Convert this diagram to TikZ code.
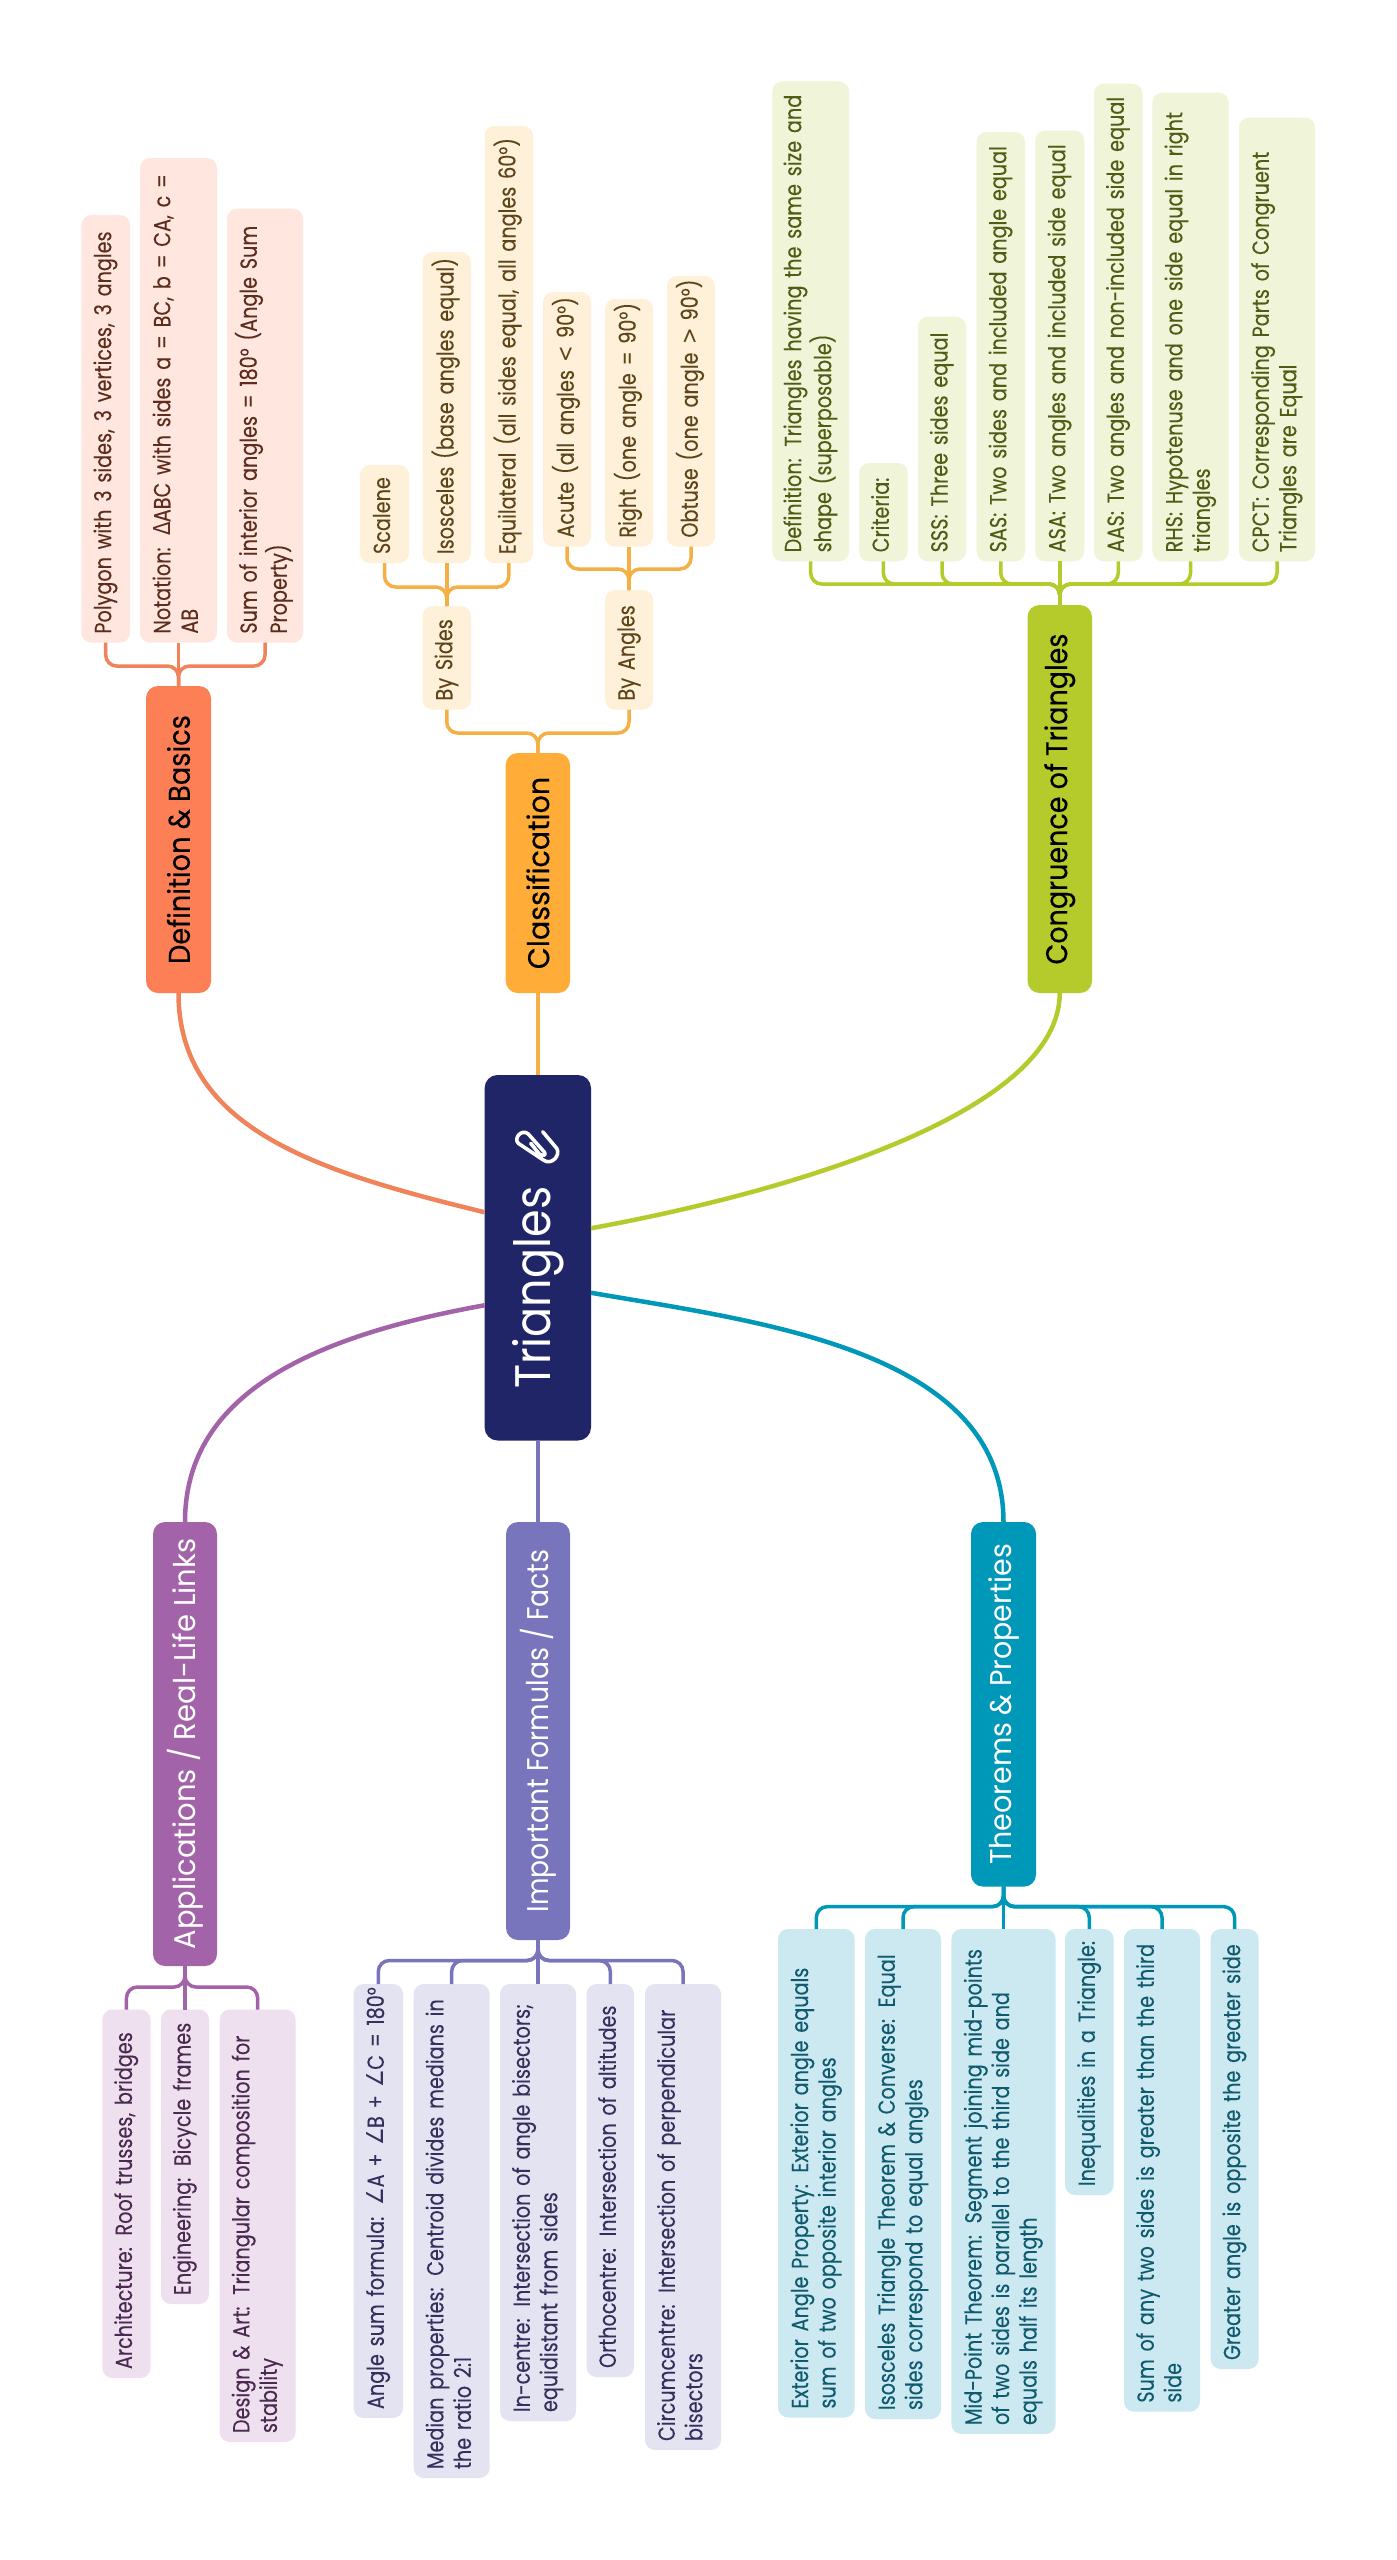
\documentclass[tikz,border=0pt]{standalone}
\usepackage{fontspec}
\setmainfont{Poppins}[FakeStretch=0.825,FakeBold=0.1]
\newfontfamily\titlef{Poppins}[FakeStretch=0.89]
\newfontfamily\titleb{Poppins}[FakeStretch=0.89,FakeBold=0.35]
\newfontfamily\symf{DejaVu Sans}[FakeStretch=0.85]
\usetikzlibrary{positioning}
\definecolor{cen}{HTML}{1F2566}
\definecolor{defc}{HTML}{FC7F55}\definecolor{defl}{HTML}{FFE6DF}\definecolor{deft}{HTML}{5C2C1C}\definecolor{defw}{HTML}{F0835A}
\definecolor{cla}{HTML}{FFAD38}\definecolor{clal}{HTML}{FFF0DA}\definecolor{clat}{HTML}{5E4518}\definecolor{claw}{HTML}{F5AF42}
\definecolor{con}{HTML}{B5CB2B}\definecolor{conl}{HTML}{F0F4D8}\definecolor{cont}{HTML}{4F5C14}
\definecolor{app}{HTML}{A263A8}\definecolor{appl}{HTML}{EEE0EF}\definecolor{appt}{HTML}{4A2A50}
\definecolor{frm}{HTML}{7975BC}\definecolor{frml}{HTML}{E4E3F1}\definecolor{frmt}{HTML}{33305E}
\definecolor{the}{HTML}{0098B8}\definecolor{thel}{HTML}{CCE9F1}\definecolor{thet}{HTML}{0F5A6E}
\tikzset{
  boxbase/.style={rotate=90,shape=rectangle,inner ysep=0pt,outer sep=0pt},
  leafbox/.style={boxbase,rounded corners=10pt,inner xsep=9pt,align=left,font=\fontsize{23.3}{27.5}\selectfont},
  branchbox/.style={boxbase,rounded corners=12pt,inner xsep=0pt,align=center},
  darktitle/.style={font=\titleb\fontsize{30}{36}\selectfont,text=black},
  lighttitle/.style={font=\titlef\fontsize{30}{36}\selectfont,text=white},
  ldef/.style={fill=defl,text=deft},lcla/.style={fill=clal,text=clat},lcon/.style={fill=conl,text=cont},
  lapp/.style={fill=appl,text=appt},lfrm/.style={fill=frml,text=frmt},lthe/.style={fill=thel,text=thet},
  stem/.style={line width=3.5pt,rounded corners=11pt},
  main/.style={line width=4.5pt},
}
\newcommand\lbox[7]{\node[leafbox,#6,minimum width={(#5-#3)*1pt},minimum height={(#4-#2)*1pt},text width={(#5-#3-18)*1pt}] (#1) at ({(#2+#4)/2},{(#3+#5)/2}) {\begin{tabular}{@{}l@{}}#7\end{tabular}};}
\newcommand\bbox[8]{\node[branchbox,#8,fill=#6,minimum width={(#5-#3)*1pt},minimum height={(#4-#2)*1pt}] (#1) at ({(#2+#4)/2},{(#3+#5)/2}) {#7};}
\begin{document}
\begin{tikzpicture}[x=1pt,y=-1pt]
\fill[white] (0,0) rectangle (1397,2560);
\useasboundingbox (0,0) rectangle (1397,2560);
% central
\node[boxbase,fill=cen,rounded corners=13pt,text=white,minimum width=365.5pt,minimum height=106.4pt,font=\titlef\fontsize{50}{60}\selectfont] (central) at (537.8,1257.75) {\makebox[262pt][l]{Triangles}};
\draw[white,line width=3.6pt,line cap=round,line join=round] (542.7,1131.7) -- (556.7,1148.3) .. controls (561,1155) and (551.7,1166) .. (543.3,1160) -- (518.3,1143.3) .. controls (513.3,1138.3) and (521.7,1128.3) .. (528.3,1134) -- (544,1151.7) .. controls (547.3,1155) and (542.7,1156.7) .. (539.3,1154) -- (530.7,1143.3);
% branches
\bbox{def}{146}{686}{211}{993}{defc}{\scalebox{1.02}[1]{Definition \& Basics}}{darktitle}
\bbox{cls}{505.7}{753}{570}{993}{cla}{\scalebox{1.07}[1]{Classification}}{darktitle}
\bbox{cng}{1027.5}{605}{1092}{993}{con}{\scalebox{1.01}[1]{Congruence of Triangles}}{darktitle}
\bbox{apl}{153}{1522}{217}{1966}{app}{\scalebox{1.085}[1]{Applications / Real-Life Links}}{lighttitle}
\bbox{fml}{506}{1522}{570}{1940}{frm}{Important Formulas / Facts}{lighttitle}
\bbox{thm}{971}{1522}{1036}{1886.6}{the}{\scalebox{1.066}[1]{Theorems \& Properties}}{lighttitle}
% definition leaves
\lbox{d1}{81.4}{215}{130}{642.6}{ldef}{Polygon with 3 sides, 3 vertices, 3 angles}
\lbox{d2}{140}{158}{217}{642.6}{ldef}{Notation: {\symf Δ}ABC with sides a = BC, b = CA, c =\\AB}
\lbox{d3}{227}{208.7}{303}{642.6}{ldef}{Sum of interior angles = 180° (Angle Sum\\Property)}
% classification
\lbox{sid}{422.5}{606}{471}{709.5}{lcla}{By Sides}
\lbox{ang}{605}{590}{653}{709.5}{lcla}{By Angles}
\lbox{c1}{360}{465}{409}{563}{lcla}{Scalene}
\lbox{c2}{422.5}{252}{471}{563}{lcla}{Isosceles (base angles equal)}
\lbox{c3}{484.5}{126}{533}{563}{lcla}{Equilateral (all sides equal, all angles 60°)}
\lbox{c4}{543}{292}{591}{546.6}{lcla}{Acute (all angles {\symf <} 90°)}
\lbox{c5}{605}{299}{653}{546.6}{lcla}{Right (one angle = 90°)}
\lbox{c6}{667}{276}{715}{546.6}{lcla}{Obtuse (one angle {\symf >} 90°)}
% congruence
\lbox{g1}{772.4}{81.4}{849}{561.3}{lcon}{Definition: Triangles having the same size and\\shape (superposable)}
\lbox{g2}{859}{463}{907.7}{561.3}{lcon}{Criteria:}
\lbox{g3}{918}{316.7}{966}{561.3}{lcon}{SSS: Three sides equal}
\lbox{g4}{976.5}{132}{1025}{561.3}{lcon}{SAS: Two sides and included angle equal}
\lbox{g5}{1035.25}{130.5}{1084.25}{561.3}{lcon}{ASA: Two angles and included side equal}
\lbox{g6}{1094}{83.7}{1142.5}{561.3}{lcon}{AAS: Two angles and non-included side equal}
\lbox{g7}{1152.4}{92.6}{1228.7}{561.3}{lcon}{RHS: Hypotenuse and one side equal in right\\triangles}
\lbox{g8}{1239}{117.6}{1315}{561.3}{lcon}{CPCT: Corresponding Parts of Congruent\\Triangles are Equal}
% applications
\lbox{a1}{102.4}{2009.5}{150.5}{2378}{lapp}{Architecture: Roof trusses, bridges}
\lbox{a2}{161}{2009.5}{209}{2304}{lapp}{Engineering: Bicycle frames}
\lbox{a3}{219.7}{2009.5}{295.6}{2442}{lapp}{Design \& Art: Triangular composition for\\stability}
% formulas
\lbox{f1}{353.6}{1984}{403}{2418}{lfrm}{Angle sum formula: {\symf ∠}A + {\symf ∠}B + {\symf ∠}C = 180°}
\lbox{f2}{413.7}{1984}{489.6}{2478}{lfrm}{Median properties: Centroid divides medians in\\the ratio 2:1}
\lbox{f3}{500}{1984}{576}{2421}{lfrm}{In-centre: Intersection of angle bisectors;\\equidistant from sides}
\lbox{f4}{586.6}{1984}{634}{2377}{lfrm}{Orthocentre: Intersection of altitudes}
\lbox{f5}{645}{1984}{721}{2450}{lfrm}{Circumcentre: Intersection of perpendicular\\bisectors}
% theorems
\lbox{t1}{778}{1929}{854.6}{2417.5}{lthe}{Exterior Angle Property: Exterior angle equals\\sum of two opposite interior angles}
\lbox{t2}{865}{1929}{941}{2419}{lthe}{Isosceles Triangle Theorem \& Converse: Equal\\sides correspond to equal angles}
\lbox{t3}{951.4}{1929}{1055.6}{2434}{lthe}{Mid-Point Theorem: Segment joining mid-points\\of two sides is parallel to the third side and\\equals half its length}
\lbox{t4}{1065}{1929}{1113.6}{2195}{lthe}{Inequalities in a Triangle:}
\lbox{t5}{1124}{1929}{1200}{2411.6}{lthe}{Sum of any two sides is greater than the third\\side}
\lbox{t6}{1210.7}{1929}{1258.6}{2369}{lthe}{Greater angle is opposite the greater side}
% main curves
\draw[main,defw] (def.west) .. controls (178.5,1130) and (320,1172) .. ([yshift=45.5pt]central.north);
\draw[main,claw] (cls.west) -- (cls.west |- central.east);
\draw[main,con] (cng.west) .. controls (1059.75,1110) and (800,1190) .. ([yshift=29.5pt]central.south);
\draw[main,app] (apl.east) .. controls (185,1390) and (320,1335) .. ([yshift=-47.5pt]central.north);
\draw[main,frm] (fml.east) -- (fml.east |- central.west);
\draw[main,the] (thm.east) .. controls (1003.5,1350) and (760,1322) .. ([yshift=-35pt]central.south);
% brackets
\coordinate (defbar) at ([yshift=20pt]def.east);
\foreach \l in {d1,d2,d3} \draw[stem,defw] (def.east) -- (defbar) -| (\l.west);
\coordinate (clsbar) at ([yshift=20pt]cls.east);
\foreach \l in {sid,ang} \draw[stem,claw] (cls.east) -- (clsbar) -| (\l.west);
\coordinate (sidbar) at ([yshift=19pt]sid.east);
\foreach \l in {c1,c2,c3} \draw[stem,claw] (sid.east) -- (sidbar) -| (\l.west);
\coordinate (angbar) at ([yshift=21pt]ang.east);
\foreach \l in {c4,c5,c6} \draw[stem,claw] (ang.east) -- (angbar) -| (\l.west);
\coordinate (cngbar) at ([yshift=21pt]cng.east);
\foreach \l in {g1,g2,g3,g4,g5,g6,g7,g8} \draw[stem,con] (cng.east) -- (cngbar) -| (\l.west);
\coordinate (aplbar) at ([yshift=-21pt]apl.west);
\foreach \l in {a1,a2,a3} \draw[stem,app] (apl.west) -- (aplbar) -| (\l.east);
\coordinate (fmlbar) at ([yshift=-20.5pt]fml.west);
\foreach \l in {f1,f2,f3,f4,f5} \draw[stem,frm] (fml.west) -- (fmlbar) -| (\l.east);
\coordinate (thmbar) at ([yshift=-20pt]thm.west);
\foreach \l in {t1,t2,t3,t4,t5,t6} \draw[stem,the] (thm.west) -- (thmbar) -| (\l.east);
\end{tikzpicture}
\end{document}
